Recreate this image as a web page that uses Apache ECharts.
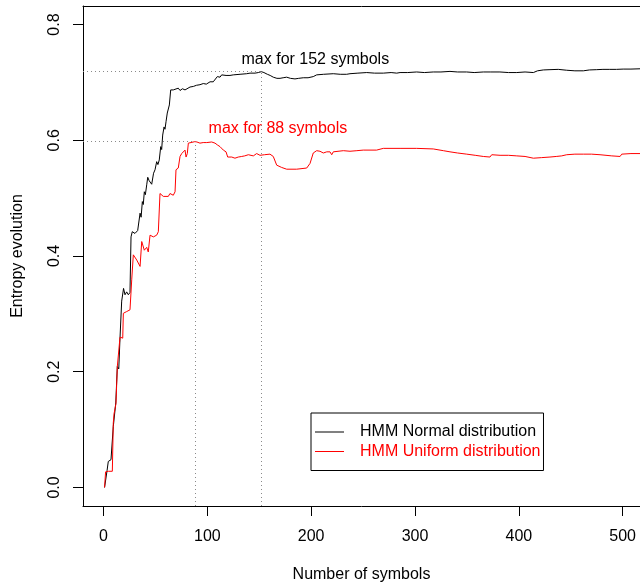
<!DOCTYPE html>
<html>
<head>
<meta charset="utf-8">
<script src="https://cdn.jsdelivr.net/npm/echarts@6/dist/echarts.min.js"></script>
<style>
  html, body { margin: 0; padding: 0; background: #fff; }
  #chart { width: 640px; height: 588px; }
</style>
</head>
<body>
<div id="chart"></div>
<script>
// ---- data ----
const xTicks = [0, 100, 200, 300, 400, 500];
const yTicks = [0, 0.2, 0.4, 0.6, 0.8];

const normalSymbols = [1, 2, 3.4, 4.6, 7.2, 8.5, 9.4, 11.1, 11.8, 13.3, 14.7, 15.9, 17.5, 19.3, 20.7, 22.3, 23.9, 25.5, 26.5, 27.7, 30.3, 32.9, 35.2, 36.2, 37.4, 38.3, 39.3, 40.3, 41.6, 42.6, 44, 45.4, 46.4, 47.4, 48.2, 49.6, 50.4, 51.2, 52.4, 53.7, 55.1, 56, 57, 58.3, 59.2, 60.2, 61.4, 62.4, 63.4, 64.7, 67.2, 69, 72, 73.7, 76, 78.5, 80.1, 83.3, 86.5, 89.5, 92.9, 96.1, 99, 102.6, 105.7, 107.4, 109.6, 112.2, 113.8, 118, 121.8, 125, 131.5, 137.9, 141.1, 146, 149.1, 152, 154.5, 157.8, 160.5, 163.5, 167, 170, 173, 176.4, 180, 184.4, 188, 192.4, 197, 202, 205.3, 212, 221.3, 228, 234.2, 237.4, 245, 253.5, 261, 266.3, 269.5, 277, 282.4, 285.6, 293, 301.6, 309, 317.6, 325, 333.7, 341, 349.7, 357, 365.8, 373, 381.8, 390, 398, 406, 414, 418, 423.6, 430, 438, 446.1, 454, 462.1, 468, 475, 481, 487.6, 494, 500.5, 508, 516.7, 520];
const normalEntropy = [0.0, 0.0, 0.029, 0.045, 0.048, 0.049, 0.105, 0.107, 0.146, 0.209, 0.205, 0.259, 0.322, 0.344, 0.333, 0.338, 0.333, 0.337, 0.433, 0.442, 0.439, 0.444, 0.474, 0.467, 0.494, 0.489, 0.511, 0.506, 0.523, 0.536, 0.53, 0.532, 0.524, 0.526, 0.543, 0.549, 0.546, 0.563, 0.558, 0.566, 0.589, 0.584, 0.609, 0.623, 0.619, 0.632, 0.647, 0.644, 0.661, 0.687, 0.687, 0.684, 0.69, 0.686, 0.689, 0.687, 0.69, 0.692, 0.693, 0.695, 0.696, 0.698, 0.697, 0.701, 0.701, 0.704, 0.71, 0.709, 0.713, 0.712, 0.712, 0.713, 0.714, 0.715, 0.716, 0.716, 0.717, 0.7185, 0.717, 0.714, 0.712, 0.709, 0.707, 0.707, 0.708, 0.709, 0.707, 0.706, 0.707, 0.708, 0.708, 0.71, 0.713, 0.714, 0.715, 0.714, 0.714, 0.715, 0.716, 0.717, 0.716, 0.716, 0.716, 0.717, 0.716, 0.717, 0.717, 0.718, 0.717, 0.718, 0.718, 0.719, 0.718, 0.718, 0.717, 0.718, 0.718, 0.718, 0.717, 0.717, 0.718, 0.717, 0.72, 0.7215, 0.722, 0.7225, 0.721, 0.72, 0.72, 0.7215, 0.722, 0.7225, 0.7225, 0.7225, 0.723, 0.723, 0.7235];

const uniformSymbols = [1, 2, 4.6, 8.5, 9.4, 10.1, 11.1, 12, 13.3, 14.7, 15.9, 18.5, 19.1, 20, 22.3, 25.5, 26.5, 27.2, 28.7, 32, 35.2, 36.8, 39.3, 41.6, 43.1, 44.8, 48, 51.2, 52.8, 54.4, 57.6, 62.4, 64, 65.7, 67.2, 68.9, 69.8, 72, 73.7, 75.3, 76.9, 78.5, 79.5, 80.7, 81.7, 83.3, 88, 90, 92.9, 96, 99.4, 104.2, 107.4, 109.6, 112.2, 115.4, 118, 119.6, 123.5, 126.6, 129.8, 133.1, 136, 139.5, 144.3, 147.5, 150.7, 155, 160.3, 163.5, 166.8, 171.6, 176.4, 186, 195.7, 198.9, 202, 205.3, 208.5, 211.7, 215, 218.1, 219.8, 221.3, 231, 237.4, 244, 250.2, 263, 269.5, 285.6, 301.6, 317.6, 327.3, 333.7, 341, 349.8, 358, 365.8, 372.2, 373.9, 381.9, 390, 398, 406, 414, 422, 430, 436, 441.3, 446.1, 454, 462.1, 470, 478.2, 489.5, 497.5, 499.1, 508, 516.7, 520];
const uniformEntropy = [0.0, 0.027, 0.028, 0.028, 0.111, 0.127, 0.125, 0.145, 0.209, 0.206, 0.26, 0.258, 0.301, 0.304, 0.304, 0.307, 0.306, 0.36, 0.402, 0.393, 0.382, 0.425, 0.41, 0.415, 0.407, 0.436, 0.433, 0.436, 0.442, 0.508, 0.503, 0.503, 0.508, 0.511, 0.505, 0.511, 0.549, 0.552, 0.572, 0.577, 0.58, 0.583, 0.571, 0.577, 0.595, 0.597, 0.5976, 0.597, 0.595, 0.596, 0.596, 0.597, 0.595, 0.592, 0.589, 0.583, 0.58, 0.571, 0.571, 0.569, 0.571, 0.572, 0.573, 0.575, 0.573, 0.577, 0.574, 0.575, 0.576, 0.572, 0.557, 0.553, 0.55, 0.55, 0.552, 0.56, 0.578, 0.582, 0.581, 0.578, 0.58, 0.58, 0.575, 0.58, 0.582, 0.581, 0.582, 0.583, 0.583, 0.586, 0.586, 0.586, 0.585, 0.582, 0.58, 0.578, 0.576, 0.574, 0.572, 0.571, 0.575, 0.574, 0.574, 0.573, 0.572, 0.569, 0.57, 0.571, 0.572, 0.573, 0.575, 0.576, 0.576, 0.576, 0.575, 0.573, 0.572, 0.576, 0.577, 0.577, 0.577];

const normalName = 'HMM Normal distribution';
const uniformName = 'HMM Uniform distribution';
const normalMaxAt = 152, normalMax = 0.7185;
const uniformMaxAt = 88, uniformMax = 0.5976;
const normalNote = 'max for 152 symbols';
const uniformNote = 'max for 88 symbols';
const normalNotePos = [204, 0.740];
const uniformNotePos = [168, 0.6207];

const xTitle = 'Number of symbols';
const yTitle = 'Entropy evolution';

// visible axis window (the plot region continues past the right edge of the image)
const xMin = -19.76, xMax = 516.7;
const yMin = -0.032, yMax = 0.832;

// ---- chart ----
const FONT = 'Liberation Sans, Arial, Helvetica, sans-serif';
const zip = (xs, ys) => xs.map((x, i) => [x, ys[i]]);
const dotted = { color: '#8a8a8a', width: 1, type: [1, 3] };
const frame = { color: '#000', width: 1 };

const chart = echarts.init(document.getElementById('chart'), null, { renderer: 'canvas' });
chart.setOption({
  animation: false,
  backgroundColor: '#ffffff',
  textStyle: { fontFamily: FONT },
  grid: { left: 83, right: 0, top: 6, bottom: 82, show: false },
  legend: {
    left: 311, top: 413, orient: 'vertical',
    borderColor: '#000', borderWidth: 1, borderRadius: 0,
    padding: [11, 3, 11, 4],
    icon: 'rect', itemWidth: 29, itemHeight: 1, itemGap: 3.5,
    textStyle: { fontSize: 16, fontFamily: FONT, lineHeight: 16, padding: [0, 0, 0, 11] },
    data: [
      { name: normalName, textStyle: { color: '#000' } },
      { name: uniformName, textStyle: { color: '#ff0000' } }
    ]
  },
  xAxis: [
    {
      type: 'value', min: xMin, max: xMax, position: 'bottom',
      name: xTitle, nameLocation: 'middle', nameGap: 61,
      nameTextStyle: { fontSize: 16, color: '#000', fontFamily: FONT },
      splitLine: { show: false },
      axisLine: { show: true, onZero: false, lineStyle: frame },
      axisTick: { show: true, length: 10, customValues: xTicks, lineStyle: { color: '#000' } },
      axisLabel: { customValues: xTicks, fontSize: 16, color: '#000', margin: 23, fontFamily: FONT }
    },
    {
      type: 'value', min: xMin, max: xMax, position: 'top',
      splitLine: { show: false },
      axisLine: { show: true, onZero: false, lineStyle: frame },
      axisTick: { show: false }, axisLabel: { show: false }
    }
  ],
  yAxis: {
    type: 'value', min: yMin, max: yMax,
    name: yTitle, nameLocation: 'middle', nameGap: 57, nameRotate: 90,
    nameTextStyle: { fontSize: 16, color: '#000', fontFamily: FONT },
    splitLine: { show: false },
    axisLine: { show: true, onZero: false, lineStyle: frame },
    axisTick: { show: true, length: 10, customValues: yTicks, lineStyle: { color: '#000' } },
    axisLabel: { customValues: yTicks, fontSize: 16, color: '#000', rotate: 90, margin: 20, fontFamily: FONT,
      formatter: v => v.toFixed(1) }
  },
  series: [
    {
      name: normalName, type: 'line', data: zip(normalSymbols, normalEntropy),
      symbol: 'none', showSymbol: false, clip: true,
      lineStyle: { color: '#000', width: 1 }, itemStyle: { color: '#000' },
      z: 3,
      markLine: {
        silent: true, symbol: 'none', animation: false,
        label: { show: false }, lineStyle: dotted,
        data: [
          [{ coord: [xMin, normalMax] }, { coord: [normalMaxAt, normalMax] }],
          [{ coord: [normalMaxAt, yMin] }, { coord: [normalMaxAt, normalMax] }]
        ]
      },
      markPoint: {
        silent: true, symbol: 'circle', symbolSize: 0, animation: false,
        label: { show: true, position: 'inside', color: '#000', fontSize: 16, fontFamily: FONT, formatter: normalNote },
        data: [{ coord: normalNotePos }]
      }
    },
    {
      name: uniformName, type: 'line', data: zip(uniformSymbols, uniformEntropy),
      symbol: 'none', showSymbol: false, clip: true,
      lineStyle: { color: '#ff0000', width: 1 }, itemStyle: { color: '#ff0000' },
      z: 4,
      markLine: {
        silent: true, symbol: 'none', animation: false,
        label: { show: false }, lineStyle: dotted,
        data: [
          [{ coord: [xMin, uniformMax] }, { coord: [uniformMaxAt, uniformMax] }],
          [{ coord: [uniformMaxAt, yMin] }, { coord: [uniformMaxAt, uniformMax] }]
        ]
      },
      markPoint: {
        silent: true, symbol: 'circle', symbolSize: 0, animation: false,
        label: { show: true, position: 'inside', color: '#ff0000', fontSize: 16, fontFamily: FONT, formatter: uniformNote },
        data: [{ coord: uniformNotePos }]
      }
    }
  ]
});
</script>
</body>
</html>
